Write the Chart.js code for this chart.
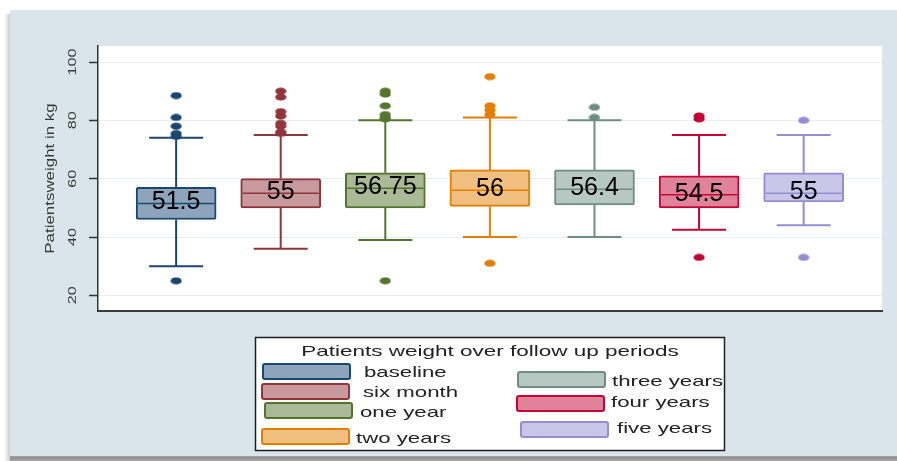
<!DOCTYPE html>
<html>
<head>
<meta charset="utf-8">
<script src="https://cdn.jsdelivr.net/npm/chart.js@4.4.1/dist/chart.umd.min.js"></script>
<style>
  html, body { margin: 0; padding: 0; background: #fff; }
  #c { display: block; }
</style>
</head>
<body>
<canvas id="c" width="897" height="461"></canvas>
<script>
// Patients' weight (kg) at each follow-up visit: box-plot summaries
const categories = ['baseline', 'six month', 'one year', 'two years', 'three years', 'four years', 'five years'];
const whiskerLow  = [30, 36, 39, 40, 40, 42.5, 44];
const q1          = [46, 50, 50, 50.5, 51, 50, 52];
const medians     = [51.5, 55, 56.75, 56, 56.4, 54.5, 55];
const q3          = [57, 60, 62, 63, 63, 61, 62];
const whiskerHigh = [74, 75, 80, 81, 80, 75, 75];
const outliers = [
  [25, 74.5, 75.5, 78, 81, 88.5],
  [75.5, 76, 78, 79, 81.5, 83, 88, 90],
  [25, 80.5, 81, 82, 85, 89, 90],
  [31, 82, 83.5, 85, 95],
  [81, 84.5],
  [33, 80.5, 81.5],
  [33, 80]
];
const yTickValues = [20, 40, 60, 80, 100];
const legendTitle = 'Patients weight over follow up periods';
const yTitle = 'Patientsweight in kg';

const lineColors = ['#1A476F', '#90353B', '#55752F', '#E37E00', '#6E8E84', '#C10534', '#938DD2'];
const fillColors = ['#8EA4BC', '#C89A9E', '#AABA97', '#F1BF80', '#B7C7C2', '#E0829A', '#C9C6E9'];

const FONT = '"Liberation Sans", Arial, Helvetica, sans-serif';

// outlier marker: small filled ellipse
function makeMarker(color) {
  const c = document.createElement('canvas');
  c.width = 12; c.height = 8;
  const g = c.getContext('2d');
  g.fillStyle = color;
  g.beginPath();
  g.ellipse(6, 4, 5.6, 3.6, 0, 0, Math.PI * 2);
  g.fill();
  return c;
}
const markers = lineColors.map(makeMarker);

const boxData = categories.map((_, i) => ({ x: i + 1, y: [q1[i], q3[i]] }));
const outlierData = [];
outliers.forEach((list, i) => list.forEach(v => outlierData.push({ x: i + 1, y: v })));

const BOX_W = 80;
const CAP_W = 54;

// panel background, shadow and white plot region
const backgroundPlugin = {
  id: 'panel',
  beforeDraw(chart) {
    const { ctx, chartArea: a, width, height } = chart;
    ctx.save();
    ctx.fillStyle = '#ffffff';
    ctx.fillRect(0, 0, width, height);
    // soft shadow on left edge
    const gl = ctx.createLinearGradient(4, 0, 10, 0);
    gl.addColorStop(0, 'rgba(200,200,200,0)');
    gl.addColorStop(1, 'rgba(190,190,190,0.8)');
    ctx.fillStyle = gl;
    ctx.fillRect(4, 14, 6, height - 14);
    ctx.fillStyle = '#D9E5EB';
    ctx.fillRect(10, 10, width - 10, 446);
    const gb = ctx.createLinearGradient(0, 455, 0, 461);
    gb.addColorStop(0, '#c9cfd2');
    gb.addColorStop(0.35, '#8e8e8e');
    gb.addColorStop(1, '#a8a8a8');
    ctx.fillStyle = gb;
    ctx.fillRect(10, 456, width - 10, 5);
    ctx.fillStyle = '#ffffff';
    ctx.fillRect(a.left, a.top, a.right - a.left, a.bottom - a.top);
    ctx.restore();
  }
};

// whiskers, caps, median lines and median value labels
const boxDetailPlugin = {
  id: 'boxDetail',
  afterDatasetsDraw(chart) {
    const { ctx, scales: { x, y } } = chart;
    ctx.save();
    categories.forEach((_, i) => {
      const cx = x.getPixelForValue(i + 1);
      const col = lineColors[i];
      ctx.strokeStyle = col;
      ctx.lineWidth = 2;
      ctx.lineCap = 'butt';
      ctx.beginPath();
      ctx.moveTo(cx, y.getPixelForValue(q3[i]));
      ctx.lineTo(cx, y.getPixelForValue(whiskerHigh[i]));
      ctx.moveTo(cx, y.getPixelForValue(q1[i]));
      ctx.lineTo(cx, y.getPixelForValue(whiskerLow[i]));
      const hy = y.getPixelForValue(whiskerHigh[i]);
      const ly = y.getPixelForValue(whiskerLow[i]);
      ctx.moveTo(cx - CAP_W / 2, hy); ctx.lineTo(cx + CAP_W / 2, hy);
      ctx.moveTo(cx - CAP_W / 2, ly); ctx.lineTo(cx + CAP_W / 2, ly);
      ctx.stroke();
      // median line
      const my = y.getPixelForValue(medians[i]);
      ctx.lineWidth = 1.5;
      ctx.beginPath();
      ctx.moveTo(cx - BOX_W / 2 + 2, my);
      ctx.lineTo(cx + BOX_W / 2 - 2, my);
      ctx.stroke();
    });
    ctx.fillStyle = '#000';
    ctx.font = '25px ' + FONT;
    ctx.textAlign = 'center';
    ctx.textBaseline = 'middle';
    categories.forEach((_, i) => {
      const cx = x.getPixelForValue(i + 1);
      const my = y.getPixelForValue(medians[i]);
      ctx.fillText(String(medians[i]), cx, my - 1);
    });
    ctx.restore();
  }
};

// rotated y tick labels and axis title, legend box
const annotationPlugin = {
  id: 'annot',
  afterDraw(chart) {
    const { ctx, scales: { y } } = chart;
    ctx.save();
    ctx.fillStyle = '#3a3a3a';
    ctx.textAlign = 'center';
    ctx.textBaseline = 'middle';
    ctx.font = '11.5px ' + FONT;
    y.ticks.forEach(t => {
      const py = y.getPixelForValue(t.value);
      ctx.save();
      ctx.translate(y.right - 25.5, py);
      ctx.rotate(-Math.PI / 2);
      ctx.scale(1.4, 1);
      ctx.fillText(String(t.value), 0, 0);
      ctx.restore();
    });
    ctx.font = '13px ' + FONT;
    ctx.save();
    ctx.translate(y.right - 48, (y.top + y.bottom) / 2);
    ctx.rotate(-Math.PI / 2);
    ctx.scale(1.3, 1);
    ctx.fillText(yTitle, 0, 0);
    ctx.restore();

    // legend
    ctx.fillStyle = '#ffffff';
    ctx.fillRect(255, 337, 470, 114);
    ctx.strokeStyle = '#1e1e1e';
    ctx.lineWidth = 1.5;
    ctx.strokeRect(255.5, 337.5, 469, 113);

    ctx.fillStyle = '#222';
    ctx.font = '15px ' + FONT;
    ctx.textAlign = 'center';
    ctx.textBaseline = 'alphabetic';
    ctx.save();
    ctx.translate(490, 356);
    ctx.scale(1.5, 1);
    ctx.fillText(legendTitle, 0, 0);
    ctx.restore();

    const slots = [
      { sx: 263, sy: 364, tx: 364, ty: 377 },
      { sx: 262, sy: 384, tx: 363, ty: 397 },
      { sx: 265, sy: 403, tx: 360, ty: 417 },
      { sx: 262, sy: 429, tx: 356, ty: 443 },
      { sx: 518, sy: 372, tx: 612, ty: 386 },
      { sx: 517, sy: 396, tx: 611, ty: 407 },
      { sx: 521, sy: 422, tx: 617, ty: 433 }
    ];
    categories.forEach((name, i) => {
      const s = slots[i];
      ctx.fillStyle = fillColors[i];
      ctx.strokeStyle = lineColors[i];
      ctx.lineWidth = 2;
      ctx.beginPath();
      ctx.roundRect(s.sx, s.sy, 87, 15, 2);
      ctx.fill();
      ctx.stroke();
      ctx.fillStyle = '#222';
      ctx.textAlign = 'left';
      ctx.save();
      ctx.translate(s.tx, s.ty);
      ctx.scale(1.48, 1);
      ctx.fillText(name, 0, 0);
      ctx.restore();
    });
    ctx.restore();
  }
};

new Chart(document.getElementById('c'), {
  type: 'bar',
  data: {
    datasets: [
      {
        type: 'bar',
        data: boxData,
        backgroundColor: fillColors,
        borderColor: lineColors,
        borderWidth: 2,
        borderSkipped: false,
        borderRadius: 2,
        barThickness: BOX_W,
        grouped: false,
        order: 1
      },
      {
        type: 'scatter',
        data: outlierData,
        pointStyle: ctx => markers[(ctx.raw ? ctx.raw.x : 1) - 1],
        pointRadius: 5,
        order: 2
      }
    ]
  },
  options: {
    responsive: false,
    animation: false,
    events: [],
    layout: { padding: { top: 46, right: 15, left: 0, bottom: 0 } },
    plugins: { legend: { display: false }, tooltip: { enabled: false }, title: { display: false } },
    scales: {
      x: {
        type: 'linear',
        min: 0.253,
        max: 7.749,
        offset: false,
        ticks: { display: false },
        grid: { display: false },
        border: { display: true, color: '#3c3c3c', width: 2 },
        afterFit(scale) { scale.height = 150; }
      },
      y: {
        type: 'linear',
        min: 14.63,
        max: 105.49,
        afterBuildTicks(scale) { scale.ticks = yTickValues.map(v => ({ value: v })); },
        ticks: { display: false },
        grid: { color: '#E6EEF1', lineWidth: 1, tickColor: '#333', tickWidth: 1.5, tickLength: 9 },
        border: { display: true, color: '#333', width: 1.5 },
        afterFit(scale) { scale.width = 98; }
      }
    }
  },
  plugins: [backgroundPlugin, boxDetailPlugin, annotationPlugin]
});
</script>
</body>
</html>
